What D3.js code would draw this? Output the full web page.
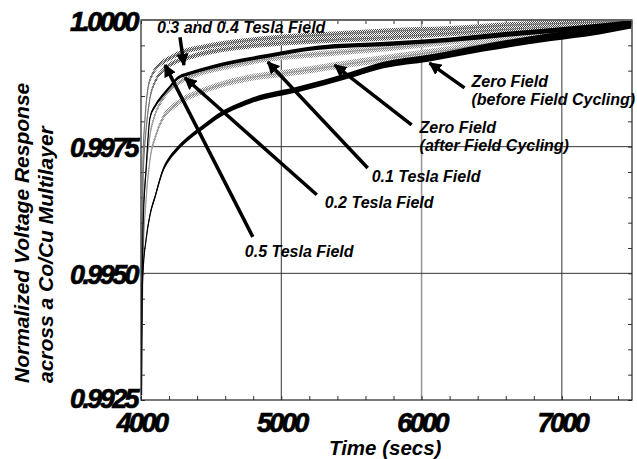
<!DOCTYPE html>
<html>
<head>
<meta charset="utf-8">
<script src="https://cdn.jsdelivr.net/npm/d3@7"></script>
<style>
  body { margin: 0; background: #fff; }
  text { font-family: "Liberation Sans", Arial, sans-serif; font-weight: bold; font-style: italic; }
</style>
</head>
<body>
<div id="chart"></div>
<script>
// tick values
const timeTicks = [4000, 5000, 6000, 7000]
const valueTicks = [0.9925, 0.9950, 0.9975, 1.0000]

// series: [time (secs), normalized response]
const tesla03 = [[4000,0.9935],[4014,0.99724],[4028,0.99803],[4050,0.99866],[4078,0.99891],[4114,0.99907],[4157,0.99917],[4221,0.99927],[4299,0.99937],[4455,0.99947],[4690,0.99957],[4883,0.99963],[5274,0.99970],[5772,0.99978],[6199,0.99982],[6640,0.99990],[7053,0.99994],[7494,0.99998]]
const tesla04 = [[4001,0.9933],[4014,0.99684],[4036,0.99783],[4064,0.99846],[4100,0.99878],[4157,0.99901],[4242,0.99917],[4349,0.99927],[4491,0.99937],[4776,0.99949],[5132,0.99957],[5772,0.99966],[6199,0.99974],[6640,0.99982],[7053,0.99990],[7494,0.99996]]
const tesla02 = [[4000,0.9930],[4014,0.99586],[4036,0.99704],[4064,0.99807],[4100,0.99830],[4157,0.99852],[4206,0.99868],[4256,0.99884],[4349,0.99895],[4420,0.99901],[4655,0.99917],[4897,0.99929],[5253,0.99945],[5772,0.99953],[6199,0.99961],[6697,0.99974],[7124,0.99984],[7494,0.99994]]
const tesla01 = [[4002,0.9929],[4014,0.99605],[4036,0.99704],[4064,0.99773],[4100,0.99813],[4149,0.99842],[4206,0.99862],[4278,0.99878],[4420,0.99895],[4633,0.99909],[4904,0.99923],[5274,0.99933],[5772,0.99945],[6199,0.99957],[6640,0.99972],[7053,0.99984],[7494,0.99996]]
const zeroAfter = [[4003,0.9927],[4014,0.99526],[4036,0.99645],[4064,0.99724],[4107,0.99773],[4157,0.99807],[4242,0.99832],[4420,0.99858],[4541,0.99870],[4776,0.99886],[5132,0.99899],[5416,0.99911],[5772,0.99925],[6199,0.99941],[6640,0.99961],[7053,0.99976],[7494,0.99992]]
const zeroBefore = [[4004,0.9926],[4007,0.99448],[4014,0.99501],[4036,0.99566],[4064,0.99615],[4100,0.99651],[4157,0.99704],[4206,0.99728],[4263,0.99747],[4349,0.99769],[4463,0.99793],[4541,0.99809],[4776,0.99840],[5132,0.99864],[5487,0.99891],[5729,0.99911],[6057,0.99925],[6441,0.99945],[6911,0.99966],[7267,0.99980],[7494,0.99992]]

// annotation text: [label lines, time, value]
const labels = [
    [['0.3 and 0.4 Tesla Field'], 4114, 0.99974],
    [['Zero Field', '(before Field Cycling)'], 6356, 0.99868],
    [['Zero Field', '(after Field Cycling)'], 5986, 0.99777],
    [['0.1 Tesla Field'], 5644, 0.99680],
    [['0.2 Tesla Field'], 5310, 0.99629],
    [['0.5 Tesla Field'], 4740, 0.99532]
]
// arrows: [tail time, tail value, tip time, tip value]
const arrows = [
    [4278, 0.99966, 4306, 0.99911],
    [4797, 0.99572, 4171, 0.99911],
    [5253, 0.99655, 4313, 0.99886],
    [5616, 0.99708, 4904, 0.99917],
    [5929, 0.99793, 5381, 0.99911],
    [6306, 0.99866, 6057, 0.99915]
]

const chart_width = 637
const chart_height = 459
const m_left = 141, m_right = 632, m_top = 20, m_bottom = 400

var svg = d3.select('#chart')
    .append('svg')
    .attr('width', chart_width)
    .attr('height', chart_height)

var defs = svg.append('defs')
defs.append('clipPath').attr('id', 'plot')
    .append('rect')
    .attr('x', m_left).attr('y', m_top)
    .attr('width', m_right - m_left).attr('height', m_bottom - m_top)

// dithered gray like the scanned print
function dither(id, fg){
    var p = defs.append('pattern')
        .attr('id', id)
        .attr('patternUnits', 'userSpaceOnUse')
        .attr('width', 2).attr('height', 2)
    p.append('rect').attr('width', 2).attr('height', 2).attr('fill', '#fff')
    p.append('rect').attr('width', 1).attr('height', 1).attr('fill', fg)
    p.append('rect').attr('x', 1).attr('y', 1).attr('width', 1).attr('height', 1).attr('fill', fg)
}
dither('darkDots', '#444')
dither('lightDots', '#888')

var defsMarker = defs.append('marker')
    .attr('id', 'head')
    .attr('viewBox', '0 0 10 10')
    .attr('refX', 9).attr('refY', 5)
    .attr('markerWidth', 3.6).attr('markerHeight', 3.6)
    .attr('orient', 'auto')
defsMarker.append('path').attr('d', 'M0,0 L10,5 L0,10 z').attr('fill', '#000')

// Create Scales
var x_scale = d3.scaleLinear().domain([4000, 7500]).range([m_left, m_right])
var y_scale = d3.scaleLinear().domain([0.9925, 1.0000]).range([m_bottom, m_top])

// Grid
svg.append('g')
    .selectAll('line')
    .data(timeTicks.slice(1))
    .enter()
    .append('line')
    .attr('x1', d => x_scale(d)).attr('x2', d => x_scale(d))
    .attr('y1', m_top).attr('y2', m_bottom)
    .attr('stroke', d => d == 6000 ? '#9a9a9a' : '#333')
    .attr('stroke-width', d => d == 6000 ? 1.6 : 1)

svg.append('g')
    .selectAll('line')
    .data(valueTicks.slice(1, 3))
    .enter()
    .append('line')
    .attr('x1', m_left).attr('x2', m_right)
    .attr('y1', d => y_scale(d)).attr('y2', d => y_scale(d))
    .attr('stroke', '#333')

// Minor ticks (inward, all four sides)
var minorT = d3.range(4000, 7501, 200)
var minorV = d3.range(0.9925, 1.00001, 0.0005)
svg.append('g').attr('transform', 'translate(0,' + m_bottom + ')')
    .call(d3.axisBottom(x_scale).tickValues(minorT).tickSize(-4).tickFormat(''))
svg.append('g').attr('transform', 'translate(0,' + m_top + ')')
    .call(d3.axisTop(x_scale).tickValues(minorT).tickSize(-4).tickFormat(''))
svg.append('g').attr('transform', 'translate(' + m_left + ',0)')
    .call(d3.axisLeft(y_scale).tickValues(minorV).tickSize(-4).tickFormat(''))
svg.append('g').attr('transform', 'translate(' + m_right + ',0)')
    .call(d3.axisRight(y_scale).tickValues(minorV).tickSize(-4).tickFormat(''))
svg.selectAll('.domain').remove()
svg.selectAll('.tick line').attr('stroke', '#333')

// Curves: thin centre line plus a noise band that widens with time
var line = d3.line()
    .x(d => x_scale(d[0]))
    .y(d => y_scale(d[1]))
    .curve(d3.curveMonotoneX)

// [data, fill, line colour, band half-width at start, at end]
var series = [
    [zeroAfter, 'url(#lightDots)', '#999', 3, 4.5],
    [tesla01, 'url(#lightDots)', '#999', 2.6, 3.6],
    [tesla04, 'url(#darkDots)', '#777', 2.5, 3.4],
    [tesla03, 'url(#darkDots)', '#777', 2.5, 3.4],
    [tesla02, '#000', '#000', 1.6, 2.8],
    [zeroBefore, '#000', '#000', 2.1, 4.4]
]
var curves = svg.append('g').attr('clip-path', 'url(#plot)')
series.forEach(function(s){
    var half = d3.scaleLinear().domain([4000, 7500]).range([s[3], s[4]])
    var band = d3.area()
        .x(d => x_scale(d[0]))
        .y0(d => y_scale(d[1]) + half(d[0]))
        .y1(d => y_scale(d[1]) - half(d[0]))
        .curve(d3.curveMonotoneX)
    curves.append('path')
        .attr('d', band(s[0]))
        .attr('fill', s[1])
    curves.append('path')
        .attr('d', line(s[0]))
        .attr('fill', 'none')
        .attr('stroke', s[2])
        .attr('stroke-width', 1.2)
})

// Frame
svg.append('rect')
    .attr('x', m_left).attr('y', m_top)
    .attr('width', m_right - m_left).attr('height', m_bottom - m_top)
    .attr('fill', 'none')
    .attr('stroke', '#222')
    .attr('stroke-width', 1.2)
svg.append('line')
    .attr('x1', m_left).attr('x2', m_right)
    .attr('y1', m_top).attr('y2', m_top)
    .attr('stroke', '#666').attr('stroke-width', 2)

// Arrows
svg.append('g')
    .selectAll('line')
    .data(arrows)
    .enter()
    .append('line')
    .attr('x1', d => x_scale(d[0])).attr('y1', d => y_scale(d[1]))
    .attr('x2', d => x_scale(d[2])).attr('y2', d => y_scale(d[3]))
    .attr('stroke', '#000')
    .attr('stroke-width', 3.5)
    .attr('marker-end', 'url(#head)')

// Annotation text
var ann = svg.append('g')
    .selectAll('text')
    .data(labels)
    .enter()
    .append('text')
    .attr('x', d => x_scale(d[1]))
    .attr('y', d => y_scale(d[2]))
    .attr('font-size', '16px')
    .attr('fill', '#000')
ann.selectAll('tspan')
    .data(d => d[0].map(s => [s, x_scale(d[1])]))
    .enter()
    .append('tspan')
    .attr('x', d => d[1])
    .attr('dy', (d, i) => i == 0 ? 0 : 18)
    .text(d => d[0])

// Tick labels
var x_axis = d3.axisBottom(x_scale).tickValues(timeTicks).tickSize(0).tickFormat(d3.format('d'))
var gx = svg.append('g')
    .attr('transform', 'translate(0,' + m_bottom + ')')
    .call(x_axis)
gx.select('.domain').remove()
gx.selectAll('text')
    .attr('y', 32).attr('dy', 0)

var y_axis = d3.axisLeft(y_scale).tickValues(valueTicks).tickSize(0).tickFormat(d3.format('.4f'))
var gy = svg.append('g')
    .attr('transform', 'translate(' + m_left + ',0)')
    .call(y_axis)
gy.select('.domain').remove()
gy.selectAll('text')
    .attr('x', -4).attr('dy', d => d == 0.9925 ? 7 : 10)

svg.selectAll('g text')
    .filter(function(){ return this.parentNode.classList.contains('tick') })
    .attr('font-family', '"Liberation Sans", Arial, sans-serif')
    .attr('font-size', '27px')
    .attr('font-weight', 'bold')
    .attr('font-style', 'italic')
    .attr('letter-spacing', '-2.6px')
    .attr('fill', '#000')
    .attr('stroke', '#000')
    .attr('stroke-width', 0.7)

// Axis titles
svg.append('text')
    .attr('x', 329).attr('y', 455)
    .attr('font-size', '20.5px')
    .text('Time (secs)')

svg.append('text')
    .attr('transform', 'translate(29,383) rotate(-90)')
    .attr('font-size', '21px')
    .text('Normalized Voltage Response')
svg.append('text')
    .attr('transform', 'translate(53,383) rotate(-90)')
    .attr('font-size', '21px')
    .text('across a Co/Cu Multilayer')
</script>
</body>
</html>
